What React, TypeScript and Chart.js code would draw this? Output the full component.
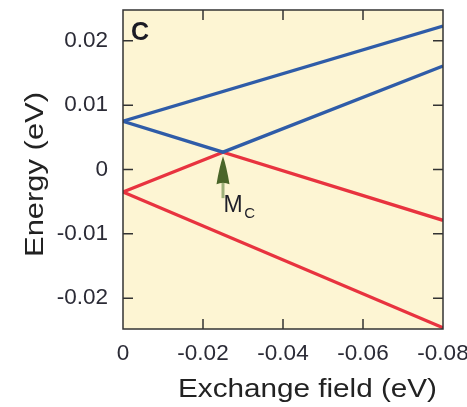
import React, { useEffect, useRef } from "react";
import { Chart, registerables } from "chart.js";

Chart.register(...registerables);

// ---- data ----
const blueUpperField = [0, -0.08];
const blueUpperEnergy = [0.0075, 0.0223];
const blueLowerField = [0, -0.025, -0.08];
const blueLowerEnergy = [0.0075, 0.0027, 0.0161];
const redUpperField = [0, -0.025, -0.08];
const redUpperEnergy = [-0.0035, 0.0027, -0.0079];
const redLowerField = [0, -0.08];
const redLowerEnergy = [-0.0035, -0.0246];

const xTicks = [0, -0.02, -0.04, -0.06, -0.08];
const yTicks = [0.02, 0.01, 0, -0.01, -0.02];
const xRange = [-0.08, 0];
const yRange = [-0.0248, 0.0248];

const markerField = -0.025;
const markerEnergy = 0.0027;
const markerMain = "M";
const markerSub = "C";
const panelLabel = "C";
const xTitle = "Exchange field (eV)";
const yTitle = "Energy (eV)";

const BLUE = "#2f5ca8";
const RED = "#e8333f";
const CREAM = "#fdf5d3";
const AXIS = "#333333";
const FONT = "'Liberation Sans', Arial, Helvetica, sans-serif";

function pts(xs: number[], ys: number[]) {
  return xs.map((x, i) => ({ x, y: ys[i] }));
}

function fmt(v: number) {
  if (Math.abs(v) < 1e-9) return "0";
  return v.toFixed(2);
}

const decorPlugin = {
  id: "decor",
  beforeDraw(chart: any) {
    const { ctx, chartArea: a } = chart;
    ctx.save();
    ctx.fillStyle = CREAM;
    ctx.fillRect(a.left, a.top, a.right - a.left, a.bottom - a.top);
    ctx.restore();
  },
  afterDraw(chart: any) {
    const { ctx, chartArea: a } = chart;
    const xs = chart.scales.x;
    const ys = chart.scales.y;
    ctx.save();
    // box
    ctx.strokeStyle = AXIS;
    ctx.lineWidth = 1.5;
    ctx.strokeRect(a.left, a.top, a.right - a.left, a.bottom - a.top);
    // inward ticks
    const tl = 10;
    ctx.beginPath();
    xTicks.forEach((v) => {
      const px = xs.getPixelForValue(v);
      if (Math.abs(px - a.left) < 2 || Math.abs(px - a.right) < 2) return;
      ctx.moveTo(px, a.top);
      ctx.lineTo(px, a.top + tl);
      ctx.moveTo(px, a.bottom);
      ctx.lineTo(px, a.bottom - tl);
    });
    yTicks.forEach((v) => {
      const py = ys.getPixelForValue(v);
      ctx.moveTo(a.left, py);
      ctx.lineTo(a.left + tl, py);
      ctx.moveTo(a.right, py);
      ctx.lineTo(a.right - tl, py);
    });
    ctx.stroke();

    // arrow
    const cx = xs.getPixelForValue(markerField);
    const cy = ys.getPixelForValue(markerEnergy);
    const tip = cy + 4;
    ctx.fillStyle = "#9db07a";
    ctx.fillRect(cx - 1.5, tip + 24, 3, 18);
    ctx.fillStyle = "#4a6529";
    ctx.beginPath();
    ctx.moveTo(cx, tip);
    ctx.quadraticCurveTo(cx + 3.5, tip + 10, cx + 6.5, tip + 28);
    ctx.quadraticCurveTo(cx, tip + 25, cx - 6.5, tip + 28);
    ctx.quadraticCurveTo(cx - 3.5, tip + 10, cx, tip);
    ctx.closePath();
    ctx.fill();

    // marker label
    ctx.fillStyle = "#1e1e28";
    ctx.textBaseline = "alphabetic";
    ctx.textAlign = "left";
    ctx.font = `23px ${FONT}`;
    ctx.fillText(markerMain, cx + 0.5, cy + 60);
    const mw = ctx.measureText(markerMain).width;
    ctx.font = `15px ${FONT}`;
    ctx.fillText(markerSub, cx + 0.5 + mw + 1.5, cy + 66);

    // panel label
    ctx.font = `bold 25px ${FONT}`;
    ctx.fillStyle = "#1a1a24";
    ctx.fillText(panelLabel, a.left + 8, a.top + 30);

    // x title
    ctx.font = `26px ${FONT}`;
    ctx.fillStyle = "#222";
    let w = ctx.measureText(xTitle).width;
    let sx = 259 / w;
    ctx.save();
    ctx.translate(178, 397);
    ctx.scale(sx, 1);
    ctx.fillText(xTitle, 0, 0);
    ctx.restore();

    // y title
    w = ctx.measureText(yTitle).width;
    sx = 165 / w;
    ctx.save();
    ctx.translate(43, 257);
    ctx.rotate(-Math.PI / 2);
    ctx.scale(sx, 1);
    ctx.fillText(yTitle, 0, 0);
    ctx.restore();

    ctx.restore();
  },
};

export default function App() {
  const ref = useRef<HTMLCanvasElement | null>(null);
  useEffect(() => {
    if (!ref.current) return;
    const lineDs = (label: string, data: any[], color: string) => ({
      label,
      data,
      borderColor: color,
      backgroundColor: color,
      borderWidth: 3.3,
      pointRadius: 0,
      showLine: true,
      fill: false,
      tension: 0,
    });
    const chart = new Chart(ref.current, {
      type: "line",
      data: {
        datasets: [
          lineDs("blue upper", pts(blueUpperField, blueUpperEnergy), BLUE),
          lineDs("blue lower", pts(blueLowerField, blueLowerEnergy), BLUE),
          lineDs("red upper", pts(redUpperField, redUpperEnergy), RED),
          lineDs("red lower", pts(redLowerField, redLowerEnergy), RED),
        ],
      },
      options: {
        animation: false,
        responsive: false,
        devicePixelRatio: 1,
        layout: { padding: { top: 10, right: 24, bottom: 0, left: 0 } },
        plugins: { legend: { display: false }, tooltip: { enabled: false } },
        scales: {
          x: {
            type: "linear",
            reverse: true,
            min: xRange[0],
            max: xRange[1],
            grid: { display: false, drawTicks: false },
            border: { display: false },
            afterBuildTicks: (s: any) => {
              s.ticks = xTicks.map((value) => ({ value }));
            },
            afterFit: (s: any) => {
              s.height = 78;
              s.paddingLeft = 0;
              s.paddingRight = 0;
            },
            ticks: {
              padding: 11,
              maxRotation: 0,
              autoSkip: false,
              color: "#2b2b36",
              font: { family: FONT, size: 22.5 },
              callback: (v: any) => fmt(Number(v)),
            },
          },
          y: {
            type: "linear",
            min: yRange[0],
            max: yRange[1],
            grid: { display: false, drawTicks: false },
            border: { display: false },
            afterBuildTicks: (s: any) => {
              s.ticks = yTicks.map((value) => ({ value }));
            },
            afterFit: (s: any) => {
              s.width = 123;
              s.paddingTop = 0;
              s.paddingBottom = 0;
            },
            ticks: {
              padding: 15,
              autoSkip: false,
              color: "#2b2b36",
              font: { family: FONT, size: 22.5 },
              callback: (v: any) => fmt(Number(v)),
            },
          },
        },
      },
      plugins: [decorPlugin],
    } as any);
    return () => chart.destroy();
  }, []);
  return (
    <div style={{ position: "fixed", left: 0, top: 0, width: 467, height: 407, background: "#fff" }}>
      <canvas ref={ref} width={467} height={407} style={{ display: "block", width: 467, height: 407 }} />
    </div>
  );
}
